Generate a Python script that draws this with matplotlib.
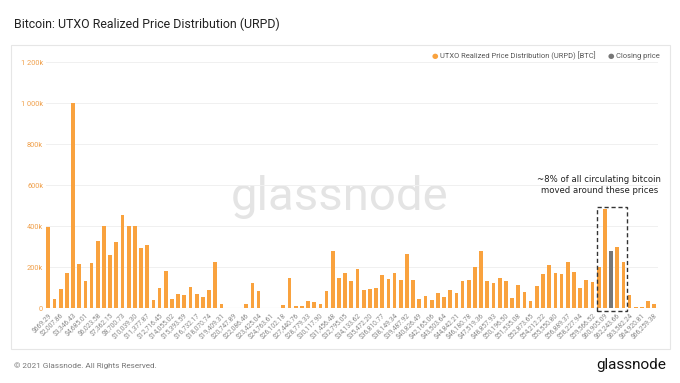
import matplotlib
matplotlib.use("Agg")
import matplotlib.pyplot as plt
from matplotlib.patches import Rectangle
import numpy as np

plt.rcParams['font.family'] = ['Roboto', 'DejaVu Sans']

# ---- data (values in k BTC) ----
urpd_values = [395, 45, 94, 171, 1000, 218, 132, 221, 330, 403,
               259, 322, 457, 403, 403, 293, 309, 42, 99, 182,
               46, 70, 65, 104, 68, 54, 91, 226, 21, 2,
               1, 1, 23, 124, 83, 1, 1, 1, 15, 148,
               11, 11, 37, 31, 20, 83, 280, 146, 171, 133,
               192, 88, 94, 98, 164, 143, 174, 140, 263, 138,
               44, 60, 41, 75, 57, 89, 73, 132, 140, 202,
               280, 133, 124, 146, 133, 49, 114, 78, 37, 111,
               167, 211, 174, 167, 228, 177, 101, 138, 128, 202,
               483, 0, 298, 228, 67, 8, 8, 36, 23]
closing_index = 91
closing_value = 278

tick_labels = ["$669.29", "$2,007.86", "$3,346.43", "$4,685.01", "$6,023.58",
               "$7,362.15", "$8,700.73", "$10,039.30", "$11,377.87", "$12,716.45",
               "$14,055.02", "$15,393.59", "$16,732.17", "$18,070.74", "$19,409.31",
               "$20,747.89", "$22,086.46", "$23,425.04", "$24,763.61", "$26,102.18",
               "$27,440.76", "$28,779.33", "$30,117.90", "$31,456.48", "$32,795.05",
               "$34,133.62", "$35,472.20", "$36,810.77", "$38,149.34", "$39,487.92",
               "$40,826.49", "$42,165.06", "$43,503.64", "$44,842.21", "$46,180.78",
               "$47,519.36", "$48,857.93", "$50,196.50", "$51,535.08", "$52,873.65",
               "$54,212.22", "$55,550.80", "$56,889.37", "$58,227.94", "$59,566.52",
               "$60,905.09", "$62,243.66", "$63,582.24", "$64,920.81", "$66,259.38"]

y_ticks = [0, 200, 400, 600, 800, 1000, 1200]
y_tick_labels = ["0", "200k", "400k", "600k", "800k", "1 000k", "1 200k"]

ORANGE = '#F9A23E'
GREY = '#777777'

W, H = 680, 383
fig = plt.figure(figsize=(W / 100, H / 100), dpi=100)
fig.patch.set_facecolor('white')

# panel border
fig.patches.append(Rectangle((11 / W, 1 - 349 / H), 659 / W, 304 / H,
                             transform=fig.transFigure, facecolor='white',
                             edgecolor='#e6e6e6', linewidth=0.8, zorder=-5))

ax_l, ax_r = 46, 658
ax_t, ax_b = 62.3, 308.3
ax = fig.add_axes([ax_l / W, 1 - ax_b / H, (ax_r - ax_l) / W, (ax_b - ax_t) / H])
ax.set_facecolor('none')
ax.set_zorder(2)

n = len(urpd_values)
x = np.arange(n)
spacing = (654.3 - 48.3) / (n - 1)
ax.set_xlim(-(48.3 - ax_l) / spacing, (n - 1) + (ax_r - 654.3) / spacing)
ax.set_ylim(0, 1200)

ax.bar(x, urpd_values, width=0.6, color=ORANGE, zorder=3)
ax.bar([closing_index], [closing_value], width=0.6, color=GREY, zorder=3)

for s in ax.spines.values():
    s.set_visible(False)
ax.axhline(0, color='#d0d0d0', lw=0.8, zorder=2)
for yt in y_ticks[1:]:
    ax.axhline(yt, color='#f0f0f0', lw=0.7, zorder=1)

ax.set_yticks(y_ticks)
ax.set_yticklabels(y_tick_labels, color='#F0A04B', fontsize=5.3)
ax.tick_params(axis='y', length=0, pad=2)

ax.set_xticks(x[::2])
ax.set_xticklabels(tick_labels, rotation=45, ha='right', rotation_mode='anchor',
                   fontsize=4.9, color='#8a8a8a')
ax.tick_params(axis='x', length=0, pad=3)

# watermark (behind bars)
ax.text(340 / W, 1 - 197 / H, 'glassnode', fontsize=34, color='#e4e4e4',
        ha='center', va='center', zorder=0.5, transform=fig.transFigure)

# annotation box
ax.add_patch(Rectangle((88.7, -12), 93.6 - 88.7, 508, fill=False,
                       edgecolor='#333333', linestyle=(0, (3, 2)), linewidth=1.0,
                       zorder=4, clip_on=False))
ax.text(89.1, 600, '~8% of all circulating bitcoin\nmoved around these prices',
        ha='center', va='center', fontsize=6.1, color='#222222',
        family=['DejaVu Sans'], linespacing=1.25, zorder=5)

# title
fig.text(14 / W, 1 - 24 / H, 'Bitcoin: UTXO Realized Price Distribution (URPD)',
         fontsize=8.9, color='#222222', ha='left', va='center')

# legend
ly = 1 - 56.5 / H
fig.text(435 / W, ly, '\u25CF', color=ORANGE, fontsize=5.4, ha='center', va='center')
fig.text(440 / W, ly, 'UTXO Realized Price Distribution (URPD) [BTC]',
         fontsize=5.4, color='#555555', ha='left', va='center')
fig.text(611 / W, ly, '\u25CF', color=GREY, fontsize=5.4, ha='center', va='center')
fig.text(616 / W, ly, 'Closing price', fontsize=5.4, color='#555555',
         ha='left', va='center')

# footer
fig.text(14 / W, 1 - 366 / H, '\u00A9 2021 Glassnode. All Rights Reserved.',
         fontsize=5.9, color='#777777', ha='left', va='center')
fig.text(666 / W, 1 - 365 / H, 'glassnode', fontsize=11, color='#111111',
         ha='right', va='center')

fig.savefig('out.png', dpi=100, facecolor='white')
